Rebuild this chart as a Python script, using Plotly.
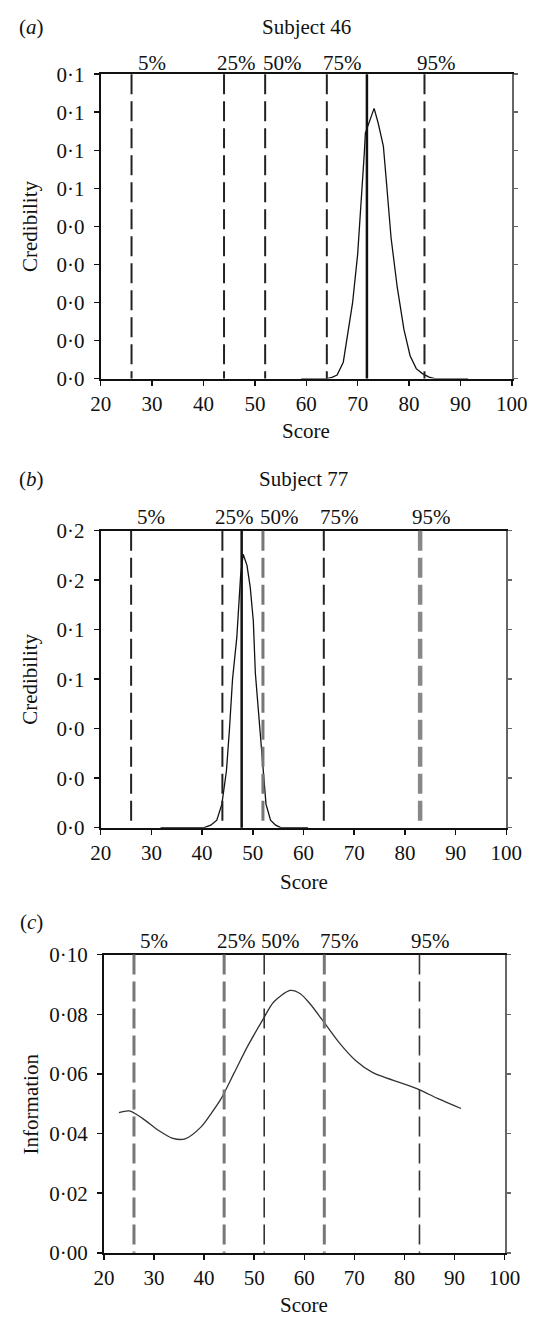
import plotly.graph_objects as go

# ---------------- data ----------------
percentile_labels = ["5%", "25%", "50%", "75%", "95%"]
percentile_scores = [26, 44, 52, 64, 83]

subject_names = ["Subject 46", "Subject 77"]
subject_scores = [71.8, 47.8]

# (a) credibility distribution, subject 46
score_a = [59, 64, 65, 66, 67.2, 68.1, 69.0, 70.0, 70.9, 71.3, 71.5, 72.4, 73.2, 74.0,
           75.0, 75.6, 76.5, 77.7, 79.0, 80.2, 81.4, 82.6, 83.9, 85, 91.5]
cred_a = [0, 0, 0.0003, 0.0009, 0.0043, 0.012, 0.0198, 0.0327, 0.0499, 0.0594, 0.0645,
          0.068, 0.0710, 0.0671, 0.0611, 0.0516, 0.037, 0.024, 0.0129, 0.006, 0.0026,
          0.0013, 0.0004, 0, 0]

# (b) credibility distribution, subject 77
score_b = [31.8, 40.4, 41.7, 42.9, 43.9, 44.8, 45.4, 46.0, 46.85, 47.3, 47.6, 48.1, 48.85,
           49.5, 50.1, 50.5, 51.35, 52.0, 52.6, 53.5, 54.5, 55.5, 60.9]
cred_b = [0, 0, 0.002, 0.006, 0.019, 0.046, 0.080, 0.120, 0.154, 0.181, 0.204, 0.221, 0.212,
          0.194, 0.167, 0.125, 0.080, 0.046, 0.019, 0.006, 0.002, 0, 0]

# (c) test information
score_c = [23.0, 25.05, 27.7, 30.95, 33.6, 36.2, 39.5, 41.45, 43.4, 46.05, 48.7, 51.7, 53.9,
           57.2, 59.2, 61.1, 63.6, 67.0, 70.3, 73.6, 82.6, 86.7, 91.3]
info_c = [0.0470, 0.0476, 0.0451, 0.0410, 0.0385, 0.0382, 0.0424, 0.0468, 0.0517, 0.0605,
          0.0693, 0.0781, 0.0841, 0.0880, 0.0869, 0.0836, 0.0781, 0.0704, 0.0644, 0.0605,
          0.0550, 0.0517, 0.0484]

x_ticks = [20, 30, 40, 50, 60, 70, 80, 90, 100]
y_ticks_a = [0, 0.01, 0.02, 0.03, 0.04, 0.05, 0.06, 0.07, 0.08]
y_text_a = ["0·0", "0·0", "0·0", "0·0", "0·0", "0·1", "0·1", "0·1", "0·1"]
y_ticks_b = [0, 0.04, 0.08, 0.12, 0.16, 0.20, 0.24]
y_text_b = ["0·0", "0·0", "0·0", "0·1", "0·1", "0·2", "0·2"]
y_ticks_c = [0, 0.02, 0.04, 0.06, 0.08, 0.10]
y_text_c = ["0·00", "0·02", "0·04", "0·06", "0·08", "0·10"]

# ---------------- layout helpers ----------------
W, H = 542, 1326
FONT = "Liberation Serif"
FS = 21
INK = "#111111"


def py(p):
    return 1 - p / H


def px(p):
    return p / W


panels = [
    dict(x0=94.4, x1=527.1, top=63.3, bot=373.3, yr=[0, 0.08], yt=y_ticks_a, ytt=y_text_a,
         head=51.7, score_y=426.7, title_y=15.0, letter="a", ytitle="Credibility"),
    dict(x0=94.4, x1=521.3, top=528.3, bot=830.7, yr=[0, 0.24], yt=y_ticks_b, ytt=y_text_b,
         head=514.0, score_y=886.0, title_y=475.7, letter="b", ytitle="Credibility"),
    dict(x0=97.8, x1=519.5, top=960.0, bot=1263.7, yr=[0, 0.10], yt=y_ticks_c, ytt=y_text_c,
         head=945.7, score_y=1316.7, title_y=926.7, letter="c", ytitle="Information"),
]

label_offsets = [4.0, 2.4, 3.3, 3.0, 2.3]

# line styles of percentile markers per panel: (color, width)
pct_styles = [
    [("#222222", 2)] * 5,
    [("#222222", 2), ("#222222", 2), ("#777777", 3), ("#222222", 2), ("#888888", 4.5)],
    [("#777777", 3), ("#777777", 3), ("#333333", 1.6), ("#777777", 3), ("#333333", 1.6)],
]

fig = go.Figure()

curves = [(score_a, cred_a), (score_b, cred_b), (score_c, info_c)]
for i, (xs, ys) in enumerate(curves):
    n = "" if i == 0 else str(i + 1)
    line = dict(color="#111111" if i < 2 else "#333333", width=1.3)
    if i == 2:
        line.update(shape="spline", smoothing=0.8)
    fig.add_trace(go.Scatter(x=xs, y=ys, mode="lines", line=line,
                             xaxis="x" + n, yaxis="y" + n, showlegend=False, hoverinfo="skip"))
    # dummy trace for right-border axis
    fig.add_trace(go.Scatter(x=[None], y=[None], xaxis="x" + n, yaxis="y" + str(i + 4),
                             showlegend=False, hoverinfo="skip"))

annotations = []
shapes = []
layout_axes = {}
for i, p in enumerate(panels):
    n = "" if i == 0 else str(i + 1)
    xa = "xaxis" + n
    ya = "yaxis" + n
    dom_x = [px(p["x0"]), px(p["x1"])]
    dom_y = [py(p["bot"]), py(p["top"])]
    layout_axes[xa] = dict(
        domain=dom_x, range=[20, 100], tickvals=x_ticks, ticks="outside", ticklen=5,
        tickwidth=1.5, tickcolor=INK, showline=True, linecolor=INK, linewidth=2, mirror=True,
        showgrid=False, zeroline=False, anchor="y" + n, fixedrange=True,
        tickfont=dict(family=FONT, size=FS, color=INK))
    layout_axes[ya] = dict(
        domain=dom_y, range=p["yr"], tickvals=p["yt"], ticktext=p["ytt"], ticks="outside",
        ticklen=5, tickwidth=1.5, tickcolor=INK, showline=True, linecolor=INK, linewidth=2,
        showgrid=False, zeroline=False, anchor="x" + n, ticklabelstandoff=5, fixedrange=True,
        tickfont=dict(family=FONT, size=FS, color=INK))
    layout_axes["yaxis" + str(i + 4)] = dict(
        overlaying="y" + n, side="right", anchor="x" + n, range=p["yr"], tickvals=p["yt"],
        showticklabels=False, ticks="outside", ticklen=4, tickwidth=1.5, tickcolor="#666666",
        showline=True, linecolor="#666666", linewidth=2, showgrid=False, zeroline=False,
        fixedrange=True)

    # percentile dashed lines + labels
    for j, (lab, sc) in enumerate(zip(percentile_labels, percentile_scores)):
        col, wid = pct_styles[i][j]
        shapes.append(dict(type="line", xref="x" + n, yref="y" + n + " domain",
                           x0=sc, x1=sc, y0=1, y1=0,
                           line=dict(color=col, width=wid, dash="20px,7px")))
        annotations.append(dict(x=sc + label_offsets[j], xref="x" + n, y=py(p["head"]),
                                yref="paper", text=lab, showarrow=False, xanchor="center",
                                yanchor="middle",
                                font=dict(family=FONT, size=FS, color=INK)))
    # subject observed score
    if i < 2:
        shapes.append(dict(type="line", xref="x" + n, yref="y" + n + " domain",
                           x0=subject_scores[i], x1=subject_scores[i], y0=0, y1=1,
                           line=dict(color="#111111", width=2.5)))
        annotations.append(dict(x=(dom_x[0] + dom_x[1]) / 2, xref="paper", y=py(p["title_y"]),
                                yref="paper", text=subject_names[i], showarrow=False,
                                xanchor="center", yanchor="middle",
                                font=dict(family=FONT, size=FS, color=INK)))
    # panel letter
    annotations.append(dict(x=px(22.0), xref="paper", y=py(p["title_y"]), yref="paper",
                            text="(<i>" + p["letter"] + "</i>)", showarrow=False,
                            xanchor="center", yanchor="middle",
                            font=dict(family=FONT, size=FS, color=INK)))
    # axis titles
    annotations.append(dict(x=(dom_x[0] + dom_x[1]) / 2, xref="paper", y=py(p["score_y"]),
                            yref="paper", text="Score", showarrow=False, xanchor="center",
                            yanchor="middle", font=dict(family=FONT, size=FS, color=INK)))
    annotations.append(dict(x=px(20.7), xref="paper", y=(dom_y[0] + dom_y[1]) / 2,
                            yref="paper", text=p["ytitle"], showarrow=False, textangle=-90,
                            xanchor="center", yanchor="middle",
                            font=dict(family=FONT, size=FS, color=INK)))

fig.update_layout(
    width=W, height=H, margin=dict(l=0, r=0, t=0, b=0),
    paper_bgcolor="white", plot_bgcolor="white", showlegend=False, hovermode=False,
    annotations=annotations, shapes=shapes, **layout_axes)

fig.write_html("out.html", config={"displayModeBar": False, "staticPlot": True},
               post_script="document.body.style.margin='0';document.body.style.overflow='hidden';")
